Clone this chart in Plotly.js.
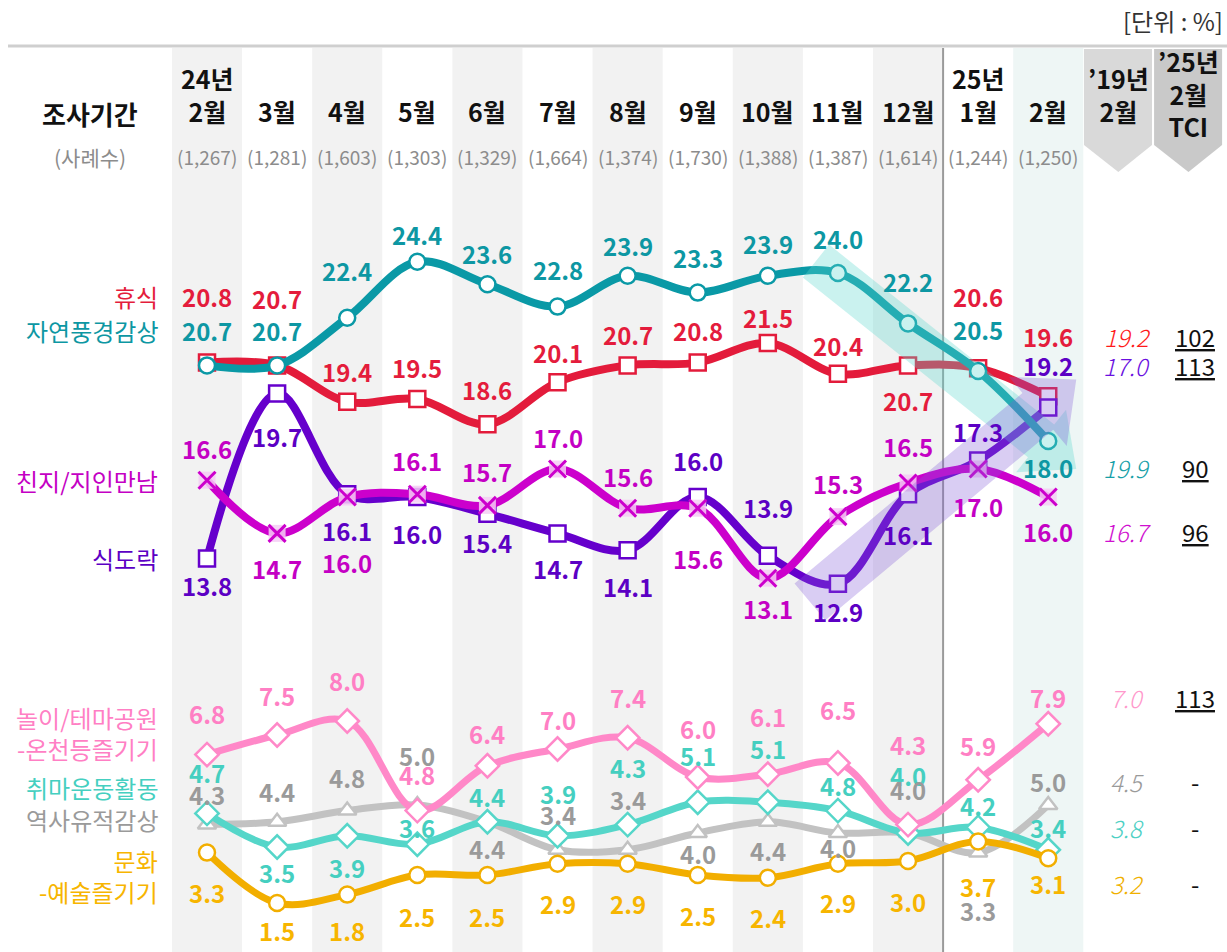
<!DOCTYPE html>
<html><head><meta charset="utf-8">
<script src="https://cdn.plot.ly/plotly-3.0.1.min.js"></script>
<style>html,body{margin:0;padding:0;background:#fff}#c{width:1227px;height:952px}</style>
</head><body><div id="c"></div>
<script>
// ---- data ----
const months = ['24년<br>2월','3월','4월','5월','6월','7월','8월','9월','10월','11월','12월','25년<br>1월','2월'];
const samples = ['(1,267)','(1,281)','(1,603)','(1,303)','(1,329)','(1,664)','(1,374)','(1,730)','(1,388)','(1,387)','(1,614)','(1,244)','(1,250)'];
const rest    = [20.8,20.7,19.4,19.5,18.6,20.1,20.7,20.8,21.5,20.4,20.7,20.6,19.6];
const nature  = [20.7,20.7,22.4,24.4,23.6,22.8,23.9,23.3,23.9,24.0,22.2,20.5,18.0];
const meet    = [16.6,14.7,16.0,16.1,15.7,17.0,15.6,15.6,13.1,15.3,16.5,17.0,16.0];
const food    = [13.8,19.7,16.1,16.0,15.4,14.7,14.1,16.0,13.9,12.9,16.1,17.3,19.2];
const park    = [6.8,7.5,8.0,4.8,6.4,7.0,7.4,6.0,6.1,6.5,4.3,5.9,7.9];
const hobby   = [4.7,3.5,3.9,3.6,4.4,3.9,4.3,5.1,5.1,4.8,4.0,4.2,3.4];
const history = [4.3,4.4,4.8,5.0,4.4,3.4,3.4,4.0,4.4,4.0,4.0,3.3,5.0];
const culture = [3.3,1.5,1.8,2.5,2.5,2.9,2.9,2.5,2.4,2.9,3.0,3.7,3.1];
const seriesNames = ['휴식','자연풍경감상','친지/지인만남','식도락','놀이/테마공원<br>-온천등즐기기','취마운동활동','역사유적감상','문화<br>-예술즐기기'];
const ref19 = [19.2,19.9,16.7,17.0,7.0,3.8,4.5,3.2];
const tci   = ['102','90','96','113','113','-','-','-'];
const ref19Header = '’19년<br>2월';
const tciHeader = '’25년<br>2월<br>TCI';

// ---- styles ----
const FONT = '"Noto Sans CJK KR", "Noto Sans", sans-serif';
const NARROW = '"Liberation Sans Narrow", "Noto Sans CJK KR", sans-serif';
const W = 1227, H = 952;
const X0 = -2.953, X1 = 14.55, Y0 = -0.25, Y1 = 33.75;
const PXU = W/(X1-X0), PYU = H/(Y1-Y0);
const px = i => (i-X0)*PXU, py = v => H-(v-Y0)*PYU;
const dx = p => p/PXU + X0, dy = p => Y0 + (H-p)/PYU;

const all = [rest,nature,meet,food,park,hobby,history,culture];
const styles = [
 {line:'#e31b3b', lab:'#e41c3c', r19:'#ff1a1a', sym:'square', w:8, off:[-66,-67,-30,-32,-35,-30,-31,-32,-26,-28,35,-72,-60], nameShift:-66},
 {line:'#0a99a6', lab:'#0d97a3', r19:'#17a0a8', sym:'circle', w:8, off:[-35,-35,-47,-27,-31,-37,-30,-35,-32,-35,-42,-42,26], nameShift:-35},
 {line:'#cc00cc', lab:'#c400c4', r19:'#d010d0', sym:'x-thin', w:8, off:[-32,35,65,-34,-34,-32,-32,50,30,-33,-37,37,34], nameShift:0},
 {line:'#6600cc', lab:'#5c00c4', r19:'#6a10e0', sym:'square', w:8, off:[27,43,36,36,29,35,36,-37,-48,28,40,-29,-42], nameShift:0},
 {line:'#ff88c8', lab:'#ff7fc4', r19:'#ff99cc', sym:'diamond', w:7, off:[-41,-40,-41,-36,-32,-30,-40,-49,-58,-54,-80,-34,-26], nameShift:-22},
 {line:'#55d6c9', lab:'#45cfc0', r19:'#4dd0c4', sym:'diamond', w:7, off:[-41,25,32,-17,-25,-42,-57,-47,-54,-25,-58,-22,-22], nameShift:-26},
 {line:'#c2c2c2', lab:'#9a9a9a', r19:'#9a9a9a', sym:'triangle-up', w:7, off:[-30,-30,-33,-50,27,-35,-50,20,29,14,-44,58,-24], nameShift:-5},
 {line:'#f2ae00', lab:'#f7b500', r19:'#f0b000', sym:'circle', w:7, off:[40,27,36,41,41,40,40,40,40,39,40,45,25], nameShift:23}
];
const xs = months.map((_,i)=>i);
const drawOrder = [6,5,7,4,0,3,2,1];

const traces = [];
drawOrder.forEach(k=>{
  const s = styles[k], d = all[k];
  if (s.sym === 'x-thin') {
    traces.push({x:xs,y:d,mode:'lines',line:{color:s.line,width:s.w,shape:'spline',smoothing:1},hoverinfo:'skip'});
    traces.push({x:xs,y:d,mode:'markers',marker:{symbol:'square',size:17,color:'rgba(245,205,245,0.85)',line:{width:0}},hoverinfo:'skip'});
    traces.push({x:xs,y:d,mode:'markers',marker:{symbol:'x-thin',size:17,color:s.line,line:{color:s.line,width:3}},hoverinfo:'skip'});
  } else {
    traces.push({x:xs,y:d,mode:'lines+markers',line:{color:s.line,width:s.w,shape:'spline',smoothing:1},
      marker:{symbol:s.sym,size:s.sym==='diamond'?18:16,color:'#fff',line:{color:s.line,width:2.5}},hoverinfo:'skip'});
  }
});

const toPaperY = p => 1-p/H;

const shapes = [];
const bandTop = toPaperY(48);
[0,2,4,6,8,10].forEach(i=>shapes.push({type:'rect',xref:'x',yref:'paper',x0:i-0.5,x1:i+0.5,y0:0,y1:bandTop,fillcolor:'#f2f2f2',line:{width:0},layer:'below'}));
shapes.push({type:'rect',xref:'x',yref:'paper',x0:11.5,x1:12.5,y0:0,y1:bandTop,fillcolor:'#eef6f5',line:{width:0},layer:'below'});
shapes.push({type:'line',xref:'x',yref:'paper',x0:10.5,x1:10.5,y0:0,y1:bandTop,line:{color:'#9a9a9a',width:2},layer:'below'});
shapes.push({type:'line',xref:'paper',yref:'paper',x0:8/W,x1:1,y0:toPaperY(46),y1:toPaperY(46),line:{color:'#cfcfcf',width:3},layer:'below'});
function chevron(ci, color){
  const l = ci-0.49, r = ci+0.48, m = ci;
  const yt = toPaperY(49), ys = toPaperY(145), ytip = toPaperY(172);
  return {type:'path',xref:'x',yref:'paper',path:`M${l},${yt} L${r},${yt} L${r},${ys} L${m},${ytip} L${l},${ys} Z`,fillcolor:color,line:{width:0},layer:'below'};
}
shapes.push(chevron(13,'#d9d9d9'));
shapes.push(chevron(14,'#c9c9c9'));
function arrow(S,T,w,hw,hl,color){
  const L = Math.hypot(T[0]-S[0],T[1]-S[1]);
  const ux=(T[0]-S[0])/L, uy=(T[1]-S[1])/L, nx=-uy, ny=ux;
  const B=[T[0]-ux*hl,T[1]-uy*hl];
  const pts=[[S[0]+nx*w/2,S[1]+ny*w/2],[B[0]+nx*w/2,B[1]+ny*w/2],[B[0]+nx*hw/2,B[1]+ny*hw/2],T,
             [B[0]-nx*hw/2,B[1]-ny*hw/2],[B[0]-nx*w/2,B[1]-ny*w/2],[S[0]-nx*w/2,S[1]-ny*w/2]];
  const path = pts.map((p,j)=>(j?'L':'M')+dx(p[0])+','+dy(p[1])).join(' ')+' Z';
  return {type:'path',xref:'x',yref:'y',path,fillcolor:color,line:{width:0},layer:'above'};
}
shapes.push(arrow([px(9)-22,py(nature[9])-12],[px(12)+28,py(nature[12])+28],42,80,45,'rgba(95,215,205,0.33)'));
shapes.push(arrow([px(9)-28,py(food[9])+18],[px(12)+28,py(food[12])-28],48,90,50,'rgba(130,90,215,0.30)'));

const ann = [];
const A = o => ann.push(Object.assign({showarrow:false},o));
A({xref:'paper',yref:'paper',x:1225/W,y:toPaperY(20),xanchor:'right',yanchor:'middle',text:'[단위 : %]',font:{family:FONT,size:24,color:'#333'}});
A({xref:'paper',yref:'paper',x:90/W,y:toPaperY(113),xanchor:'center',yanchor:'middle',text:'<b>조사기간</b>',font:{family:FONT,size:26,color:'#111'}});
A({xref:'paper',yref:'paper',x:90/W,y:toPaperY(157),xanchor:'center',yanchor:'middle',text:'(사례수)',font:{family:FONT,size:21,color:'#8c8c8c'}});
months.forEach((m,i)=>{
  A({xref:'x',yref:'paper',x:i,y:toPaperY(131),xanchor:'center',yanchor:'bottom',text:'<b>'+m+'</b>',font:{family:FONT,size:25,color:'#111'}});
  A({xref:'x',yref:'paper',x:i,y:toPaperY(157),xanchor:'center',yanchor:'middle',text:samples[i],font:{family:NARROW,size:19,color:'#8c8c8c'}});
});
A({xref:'x',yref:'paper',x:13,y:toPaperY(131),xanchor:'center',yanchor:'bottom',text:'<b>'+ref19Header+'</b>',font:{family:FONT,size:25,color:'#111'}});
A({xref:'x',yref:'paper',x:14,y:toPaperY(146),xanchor:'center',yanchor:'bottom',text:'<b>'+tciHeader+'</b>',font:{family:FONT,size:25,color:'#111'}});

all.forEach((d,k)=>{
  const s = styles[k];
  d.forEach((v,i)=>A({xref:'x',yref:'y',x:i,y:v,yshift:-s.off[i],xanchor:'center',yanchor:'middle',
     text:'<b>'+v.toFixed(1)+'</b>',font:{family:FONT,size:24,color:s.lab}}));
  A({xref:'paper',yref:'y',x:160/W,y:d[0],yshift:-s.nameShift,xanchor:'right',yanchor:'middle',align:'right',
     text:seriesNames[k],font:{family:FONT,size:24,color:s.lab}});
  A({xref:'x',yref:'y',x:13.13,y:d[12],yshift:-s.off[12],xanchor:'center',yanchor:'middle',
     text:ref19[k].toFixed(1),font:{family:FONT,size:24,color:s.r19,style:'italic',weight:300}});
  A({xref:'x',yref:'y',x:14.1,y:d[12],yshift:-s.off[12],xanchor:'center',yanchor:'middle',
     text:tci[k],font:{family:FONT,size:24,color:'#111',lineposition:tci[k]==='-'?'none':'under'}});
});

const layout = {
  width:W,height:H,margin:{l:0,r:0,t:0,b:0},paper_bgcolor:'#fff',plot_bgcolor:'#fff',showlegend:false,
  xaxis:{range:[X0,X1],visible:false,fixedrange:true},
  yaxis:{range:[Y0,Y1],visible:false,fixedrange:true},
  shapes,annotations:ann
};
Plotly.newPlot('c',traces,layout,{displayModeBar:false,staticPlot:true});
</script></body></html>
